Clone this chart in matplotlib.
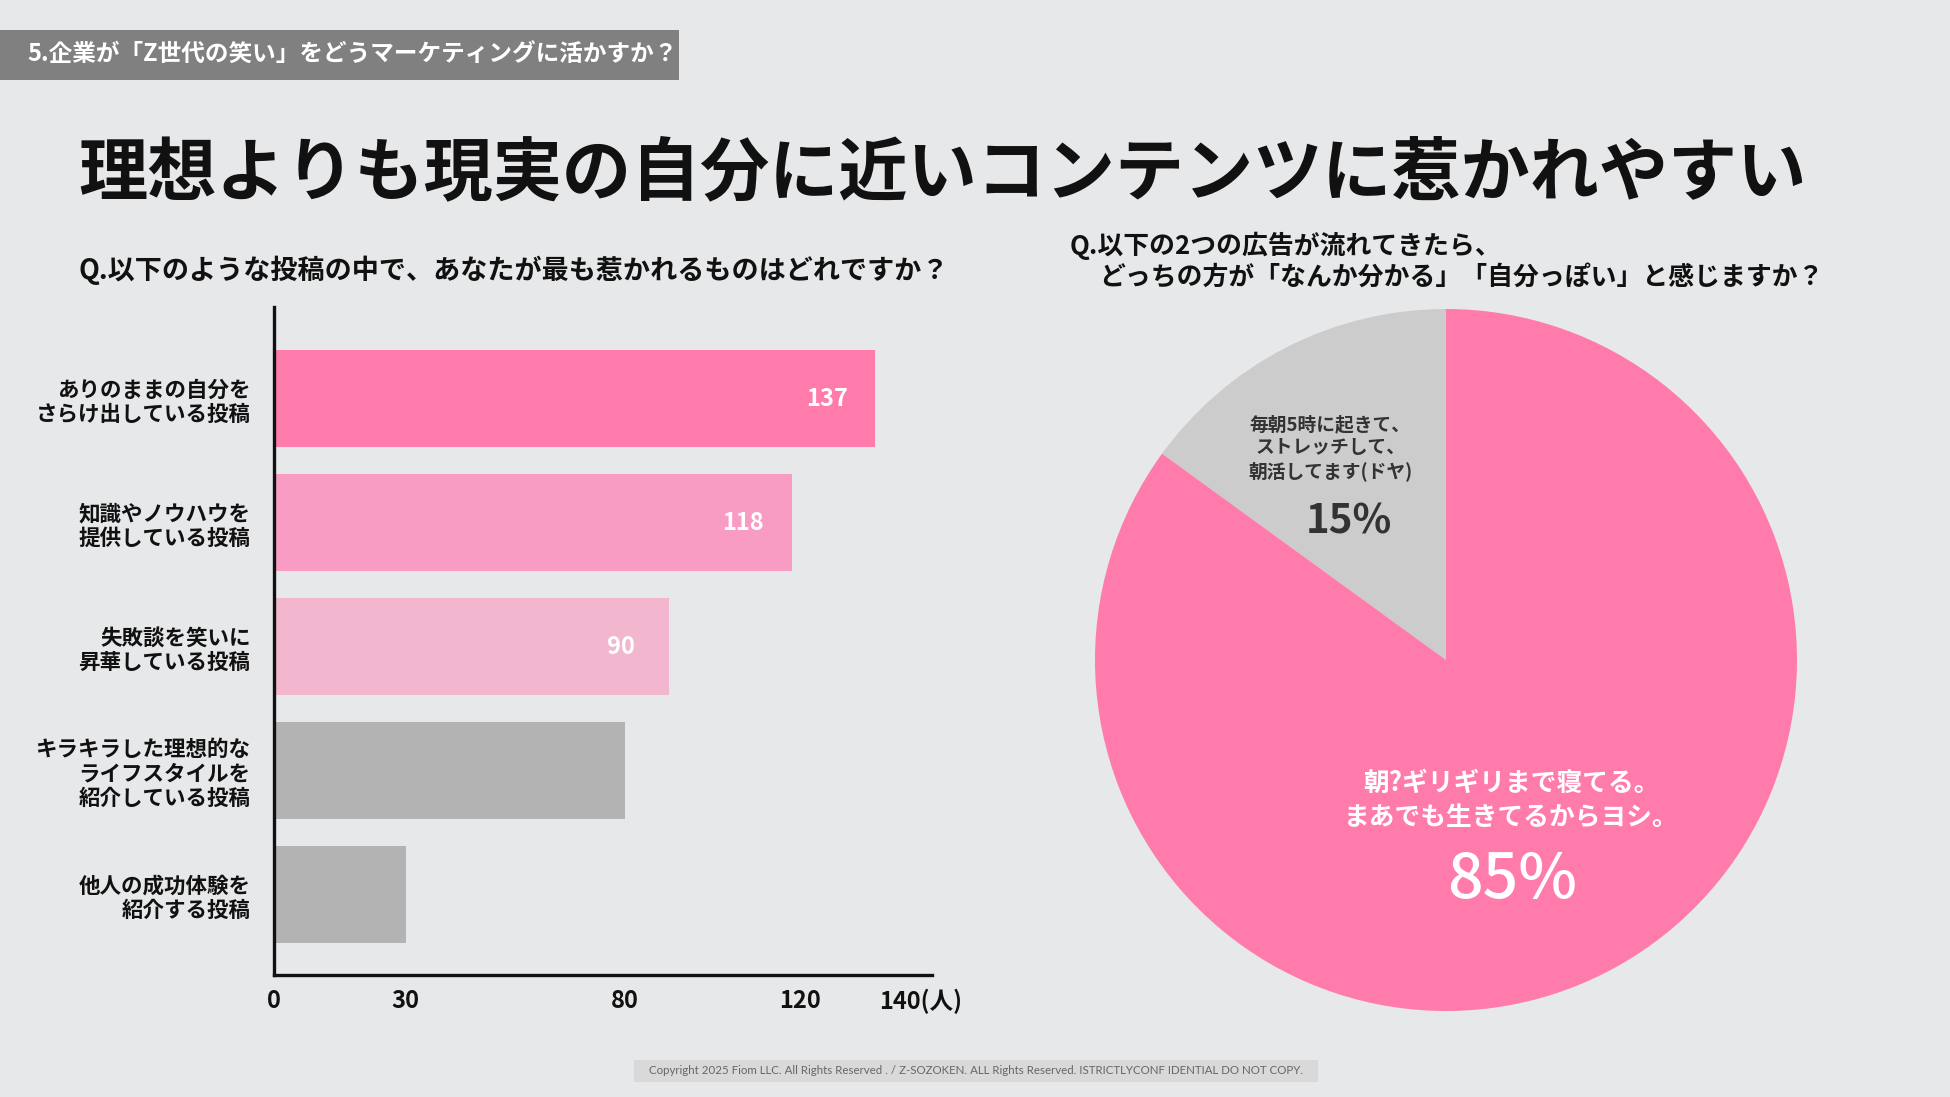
import matplotlib
matplotlib.use("Agg")
import matplotlib.pyplot as plt
from matplotlib.patches import Rectangle
from matplotlib.transforms import blended_transform_factory

plt.rcParams["font.family"] = ["Noto Sans CJK JP", "DejaVu Sans"]

W, H = 1950, 1097
BG = "#E7E8E9"
PINK = "#FF7BAC"

header = "5.企業が「Z世代の笑い」をどうマーケティングに活かすか？"
title = "理想よりも現実の自分に近いコンテンツに惹かれやすい"
q_left = "Q.以下のような投稿の中で、あなたが最も惹かれるものはどれですか？"
q_right_1 = "Q.以下の2つの広告が流れてきたら、"
q_right_2 = "どっちの方が「なんか分かる」「自分っぽい」と感じますか？"

categories = [
    "ありのままの自分を\nさらけ出している投稿",
    "知識やノウハウを\n提供している投稿",
    "失敗談を笑いに\n昇華している投稿",
    "キラキラした理想的な\nライフスタイルを\n紹介している投稿",
    "他人の成功体験を\n紹介する投稿",
]
counts = [137, 118, 90, 80, 30]
bar_colors = ["#FF7BAC", "#F89CC3", "#F2B6CE", "#B3B3B3", "#B3B3B3"]
show_value = [True, True, True, False, False]
xticks = [0, 30, 80, 120]
xtick_labels = ["0", "30", "80", "120"]
last_tick = 140
last_tick_label = "140(人)"

pie_labels = ["毎朝5時に起きて、\nストレッチして、\n朝活してます(ドヤ)", "朝?ギリギリまで寝てる。\nまあでも生きてるからヨシ。"]
pie_shares = [15, 85]
pie_colors = ["#CCCCCC", PINK]

footer = ("Copyright 2025 Fiom LLC. All Rights Reserved . / Z-SOZOKEN. ALL Rights Reserved. "
          "ISTRICTLYCONF IDENTIAL DO NOT COPY.")


def fx(x):
    return x / W


def fy(y):
    return 1 - y / H


fig = plt.figure(figsize=(W / 100, H / 100), dpi=100, facecolor=BG)

# header band
fig.patches.append(Rectangle((0, fy(80)), fx(679), (80 - 30) / H, transform=fig.transFigure,
                             facecolor="#808080", edgecolor="none"))
fig.text(fx(27), fy(55), header, color="white", fontsize=17, fontweight="bold", va="center")

fig.text(fx(78), fy(174), title, fontsize=49.8, fontweight="bold", va="center", color="#111111")
fig.text(fx(78), fy(270), q_left, fontsize=19.5, fontweight="bold", va="center", color="#111111")
fig.text(fx(1070), fy(246), q_right_1, fontsize=18.6, fontweight="bold", va="center", color="#111111")
fig.text(fx(1099), fy(278), q_right_2, fontsize=18.6, fontweight="bold", va="center", color="#111111")

# bar chart
ax = fig.add_axes([fx(274), fy(975), (932 - 274) / W, (975 - 307) / H])
ax.set_facecolor("none")
ypos = list(range(len(categories)))
ax.barh(ypos, counts, height=0.785, color=bar_colors)
ax.set_xlim(0, 150)
ax.set_ylim(4.65, -0.74)
for s in ("top", "right"):
    ax.spines[s].set_visible(False)
for s in ("left", "bottom"):
    ax.spines[s].set_linewidth(2.4)
    ax.spines[s].set_color("#111111")
ax.set_yticks(ypos)
ax.set_yticklabels(categories, fontsize=15.5, fontweight="bold", linespacing=1.2, color="#111111")
ax.tick_params(axis="y", length=0, pad=17)
ax.set_xticks(xticks)
ax.set_xticklabels(xtick_labels, fontsize=17, fontweight="bold", color="#111111")
ax.tick_params(axis="x", length=0, pad=10)
trans = blended_transform_factory(ax.transData, ax.transAxes)
ax.annotate(last_tick_label, xy=(last_tick - 2, 0), xycoords=trans, xytext=(0, -10),
            textcoords="offset points", ha="left", va="top",
            fontsize=17, fontweight="bold", color="#111111")
for y, v, show in zip(ypos, counts, show_value):
    if show:
        ax.text(v - 11, y, str(v), ha="center", va="center", color="white",
                fontsize=17, fontweight="bold")

# pie chart
r = 351
cx, cy = 1446, 660
pax = fig.add_axes([fx(cx - r), fy(cy + r), 2 * r / W, 2 * r / H])
pax.pie(pie_shares, colors=pie_colors, startangle=90, counterclock=True,
        wedgeprops=dict(linewidth=0))
pax.set_xlim(-1, 1)
pax.set_ylim(-1, 1)
pax.set_aspect("auto")
pax.axis("off")
pax.text(-0.33, 0.604, pie_labels[0], ha="center", va="center", fontsize=13.5,
         fontweight="bold", color="#333333", linespacing=1.25)
pax.text(-0.276, 0.393, f"{pie_shares[0]}%", ha="center", va="center", fontsize=29,
         fontweight="bold", color="#333333")
pax.text(0.185, -0.40, pie_labels[1], ha="center", va="center", fontsize=18.5,
         fontweight="bold", color="white", linespacing=1.3)
pax.text(0.188, -0.627, f"{pie_shares[1]}%", ha="center", va="center", fontsize=45,
         fontweight="medium", color="white")

# footer
fig.patches.append(Rectangle((fx(634), fy(1082)), fx(1318 - 634), 22 / H, transform=fig.transFigure,
                             facecolor="#D9D9D9", edgecolor="none"))
fig.text(fx(976), fy(1071), footer, ha="center", va="center", fontsize=8.3,
         family=["Lato", "DejaVu Sans"], color="#666666")

fig.savefig("out.png", dpi=100, facecolor=BG)
